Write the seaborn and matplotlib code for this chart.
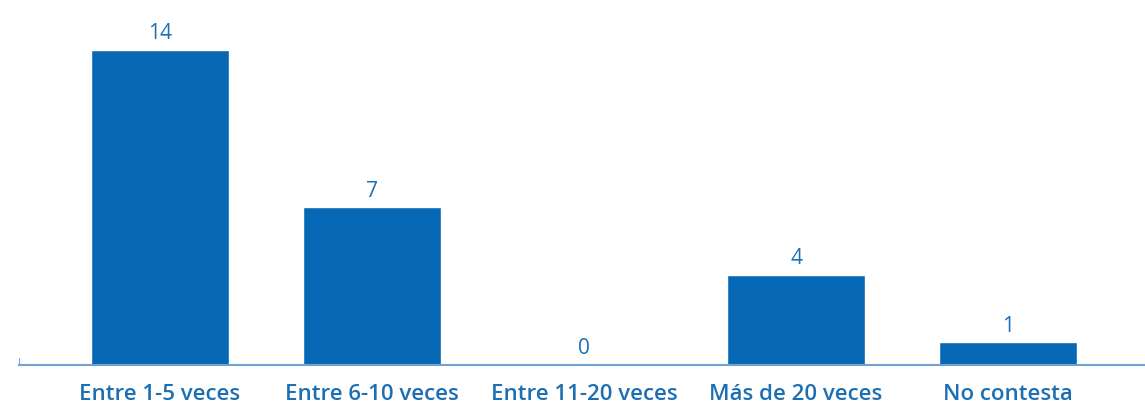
import matplotlib
matplotlib.use("Agg")
import matplotlib.pyplot as plt
import seaborn as sns
import pandas as pd

categories = ["Entre 1-5 veces", "Entre 6-10 veces", "Entre 11-20 veces", "Más de 20 veces", "No contesta"]
values = [14, 7, 0, 4, 1]

sns.set_style("white")
plt.rcParams['font.family'] = ['Open Sans', 'DejaVu Sans']

df = pd.DataFrame({"cat": categories, "val": values})

fig = plt.figure(figsize=(11.45, 4.08), dpi=100)
ax = fig.add_axes([19/1145, 43/408, 1 - 19/1145, 365/408])
sns.barplot(data=df, x="cat", y="val", color="#0769b5", saturation=1, width=0.65, ax=ax)

ax.set_xlim(-0.665, 4.646)
ax.set_ylim(0, 16.2)
for s in ["top", "right", "left"]:
    ax.spines[s].set_visible(False)
ax.spines["bottom"].set_color("#6fa3d6")
ax.spines["bottom"].set_linewidth(1.5)
ax.set_yticks([])
ax.set_xlabel("")
ax.set_ylabel("")
ax.tick_params(axis="x", length=0, pad=14, labelsize=16, labelcolor="#1d6fb3")
for lbl in ax.get_xticklabels():
    lbl.set_fontweight("semibold")
# small left tick
ax.axvline(-0.665, ymin=0, ymax=6/365, color="#6fa3d6", lw=1.5)

for c in ax.containers:
    ax.bar_label(c, labels=[str(v) for v in values], padding=4, fontsize=15, color="#1d6fb3")

fig.savefig("out.png", dpi=100)
